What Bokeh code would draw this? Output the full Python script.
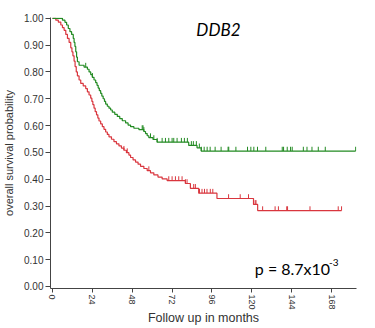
import numpy as np
from bokeh.plotting import figure
from bokeh.models import Label, FixedTicker, PrintfTickFormatter, Range1d
from bokeh.embed import file_html
from bokeh.resources import INLINE

# ---- data ----
green_t = [0, 6, 7.5, 8.5, 9.5, 10.5, 11.5, 12.5, 13, 13.5, 14, 14.5, 15, 16, 19, 21, 22, 23, 24,
           25, 26, 26.8, 27.5, 28.2, 29, 29.7, 30.5, 31.3, 32, 33, 34, 35, 36, 37.5, 39, 40.5, 42,
           44, 45.5, 47, 49, 52, 55, 56, 57, 58, 60.5, 63, 82, 87, 89.5]
green_s = [1.0, 0.993, 0.985, 0.975, 0.962, 0.95, 0.94, 0.925, 0.91, 0.895, 0.875, 0.855, 0.838,
           0.825, 0.818, 0.81, 0.80, 0.79, 0.78, 0.77, 0.76, 0.75, 0.74, 0.73, 0.72, 0.71, 0.70,
           0.69, 0.68, 0.672, 0.665, 0.658, 0.65, 0.642, 0.634, 0.626, 0.618, 0.61, 0.602, 0.596,
           0.59, 0.585, 0.578, 0.57, 0.562, 0.555, 0.548, 0.538, 0.526, 0.517, 0.505]
green_end = 182.5
green_cens = [20, 24, 54, 54.5, 55, 59, 61, 63, 66, 68, 70, 72, 73, 75, 77.6, 79.4, 81.2, 83.6,
              84.8, 86.6, 88.4, 89.6, 91.3, 93.1, 94.9, 97.9, 101.5, 105.7, 106.1, 110.4, 117.4,
              119.4, 121.2, 123.4, 128.4, 138.3, 139.1, 141.3, 143.3, 144.3, 151, 153.2, 156.2,
              160, 164.2, 182.5]

red_t = [0, 2, 3.5, 5, 6, 7, 8, 9, 10, 11, 11.7, 12.3, 13, 13.6, 14.3, 15, 16, 17, 18.5, 20, 21,
         22, 23, 23.7, 24.3, 25, 25.7, 26.5, 27.3, 28, 29, 30, 31, 32, 33, 34, 35.5, 37, 38.5, 40,
         41.5, 43, 44.5, 46, 47, 48.5, 50, 51.5, 53, 55, 57, 59, 61, 63.5, 66, 69, 80, 83, 88,
         99, 121, 123.5]
red_s = [1.0, 0.993, 0.986, 0.975, 0.965, 0.955, 0.94, 0.925, 0.91, 0.89, 0.875, 0.86, 0.84,
         0.82, 0.80, 0.785, 0.77, 0.757, 0.748, 0.738, 0.726, 0.714, 0.702, 0.69, 0.678, 0.665,
         0.652, 0.64, 0.628, 0.617, 0.606, 0.596, 0.586, 0.576, 0.567, 0.558, 0.549, 0.54, 0.532,
         0.524, 0.516, 0.508, 0.499, 0.49, 0.481, 0.472, 0.464, 0.456, 0.448, 0.44, 0.432, 0.424,
         0.416, 0.408, 0.401, 0.395, 0.384, 0.366, 0.348, 0.328, 0.306, 0.283]
red_end = 174
red_cens = [43, 45, 58, 70, 72, 74, 76, 78, 80, 81, 85, 86, 88.5, 90, 91.5, 93, 95, 96.5, 106,
            113, 118, 122, 122.5, 126.5, 134, 136, 141, 141.5, 155, 172, 174]

x_ticks = [0, 24, 48, 72, 96, 120, 144, 168]
y_ticks = [0.0, 0.1, 0.2, 0.3, 0.4, 0.5, 0.6, 0.7, 0.8, 0.9, 1.0]

gene_name = "DDB2"
p_text = "p = 8.7x10"
p_exp = "-3"
x_title = "Follow up in months"
y_title = "overall survival probability"

GREEN = "#238b23"
RED = "#d9363e"
AXIS = "#444444"


def surv_at(times, surv, t):
    idx = np.searchsorted(np.asarray(times), np.asarray(t), side="right") - 1
    return np.asarray(surv)[idx]


p = figure(width=375, height=328, x_range=Range1d(-1.2, 183), y_range=Range1d(-0.0075, 1.003),
           output_backend="svg", toolbar_location=None,
           min_border_left=48, min_border_right=19, min_border_top=17, min_border_bottom=40)
p.xgrid.visible = False
p.ygrid.visible = False
p.outline_line_color = None
p.background_fill_color = "white"

for ax in (p.xaxis[0], p.yaxis[0]):
    ax.axis_line_color = AXIS
    ax.major_tick_line_color = AXIS
    ax.minor_tick_line_color = None
    ax.major_tick_in = 0
    ax.major_label_text_color = "#333333"
    ax.major_label_text_font = "Liberation Sans"
    ax.axis_label_text_font = "Liberation Sans"
    ax.axis_label_text_font_style = "normal"
    ax.axis_label_text_color = "#333333"

p.xaxis.ticker = FixedTicker(ticks=x_ticks)
p.xaxis.major_tick_out = 4
p.xaxis.major_label_orientation = -np.pi / 2
p.xaxis.major_label_text_font_size = "9px"
p.xaxis.major_label_standoff = 2
p.xaxis.axis_label = x_title
p.xaxis.axis_label_text_font_size = "12.5px"
p.xaxis.axis_label_standoff = -2

p.yaxis.ticker = FixedTicker(ticks=y_ticks)
p.yaxis.formatter = PrintfTickFormatter(format="%.2f")
p.yaxis.major_tick_out = 5
p.yaxis.major_label_text_font_size = "10px"
p.yaxis.major_label_standoff = 2
p.yaxis.axis_label = y_title
p.yaxis.axis_label_text_font_size = "11px"
p.yaxis.axis_label_standoff = 6

# survival curves
p.step(x=red_t + [red_end], y=red_s + [red_s[-1]], mode="after", line_color=RED, line_width=1.2)
p.step(x=green_t + [green_end], y=green_s + [green_s[-1]], mode="after", line_color=GREEN,
       line_width=1.2)

# censor marks
rc = np.array(red_cens)
rs = surv_at(red_t, red_s, rc)
p.segment(x0=rc, y0=rs, x1=rc, y1=rs + 0.016, line_color=RED, line_width=1)
gc = np.array(green_cens)
gs = surv_at(green_t, green_s, gc)
p.segment(x0=gc, y0=gs, x1=gc, y1=gs + 0.016, line_color=GREEN, line_width=1)

# texts
p.add_layout(Label(x=86.6, y=0.958, text=gene_name, text_font="Lato", text_font_style="italic",
                   text_font_size="17px", text_color="black", text_baseline="alphabetic"))
p.add_layout(Label(x=121.8, y=0.066, text=p_text, text_font="Lato", text_font_size="16px",
                   text_color="black", text_baseline="alphabetic"))
p.add_layout(Label(x=166.5, y=0.088, text=p_exp, text_font="Lato", text_font_size="10px",
                   text_color="black", text_baseline="alphabetic"))

open("out.html", "w").write(file_html(p, INLINE))
